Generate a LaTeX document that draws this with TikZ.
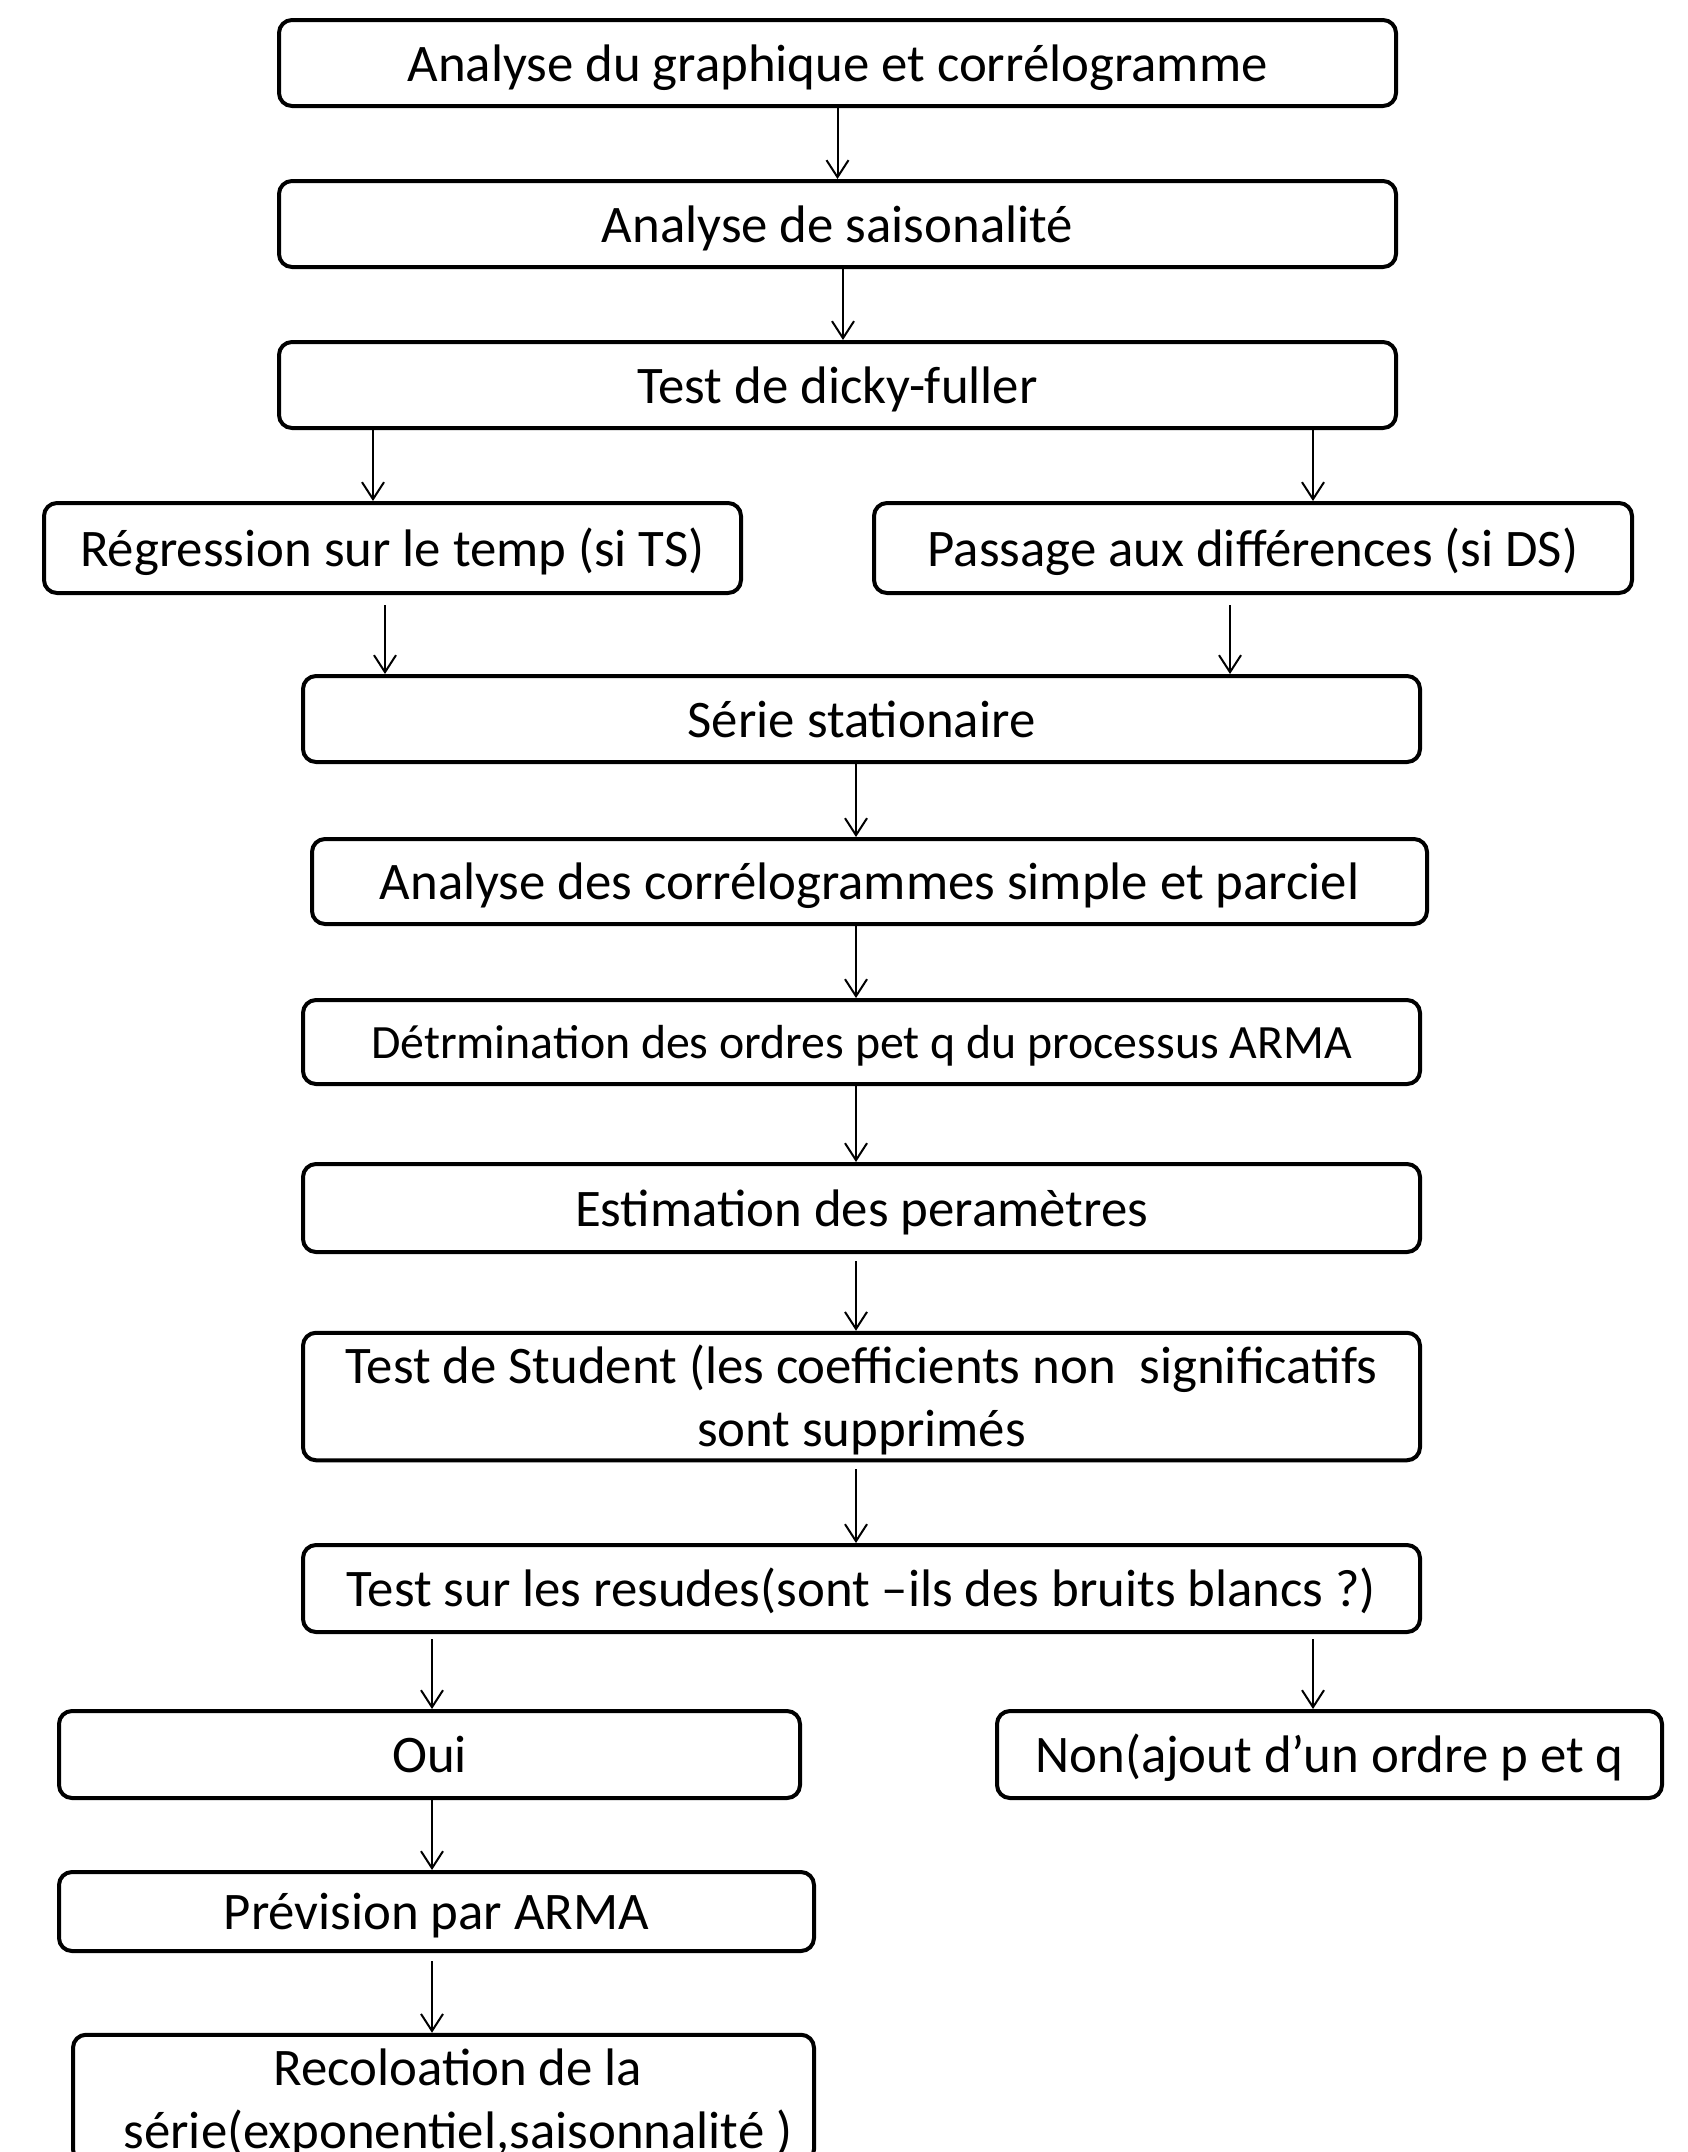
\documentclass[tikz,border=0pt]{standalone}
\usepackage{fontspec}
\setmainfont{Carlito}
\usetikzlibrary{arrows.meta}
\begin{document}
\begin{tikzpicture}[x=1pt,y=-1pt,
  box/.style={draw, line width=4pt, rounded corners=13pt, align=center, inner sep=0pt,
    font=\fontsize{52.8}{63}\selectfont, text height=50.3pt, text depth=14.2pt},
  twoline/.style={box, text height=113.3pt},
  smallbox/.style={box, font=\fontsize{47.8}{57}\selectfont, text height=45.5pt, text depth=12.9pt},
  arr/.style={line width=2pt, -{Straight Barb[length=17pt,width=22pt]}}]
\useasboundingbox (0,0) rectangle (1688,2152);
\clip (0,0) rectangle (1688,2152);
\node[box, minimum width=1117pt, minimum height=86pt] (b1) at (837.5,63) {Analyse du graphique et corrélogramme};
\node[box, minimum width=1117pt, minimum height=86pt] (b2) at (837.5,224) {Analyse de saisonalité};
\node[box, minimum width=1117pt, minimum height=86pt] (b3) at (837.5,385) {Test de dicky-fuller};
\node[box, minimum width=697pt, minimum height=90pt] (b4) at (392.5,548) {Régression sur le temp (si TS)};
\node[box, minimum width=758pt, minimum height=90pt] (b5) at (1253,548) {Passage aux différences (si DS)};
\node[box, minimum width=1117pt, minimum height=86pt] (b6) at (861.5,719) {Série stationaire};
\node[box, minimum width=1115pt, minimum height=85pt] (b7) at (869.5,881.5) {Analyse des corrélogrammes simple et parciel};
\node[smallbox, minimum width=1117pt, minimum height=84pt] (b8) at (861.5,1042) {Détrmination des ordres pet q du processus ARMA};
\node[box, minimum width=1117pt, minimum height=88pt] (b9) at (861.5,1208) {Estimation des peramètres};
\node[twoline, minimum width=1117pt, minimum height=127pt] (b10) at (861.5,1396.5) {Test de Student (les coefficients non\ \ significatifs\\sont supprimés};
\node[box, minimum width=1117pt, minimum height=87pt] (b11) at (861.5,1588.5) {Test sur les resudes(sont –ils des bruits blancs ?)};
\node[box, minimum width=741pt, minimum height=87pt] (b12) at (429.5,1754.5) {Oui};
\node[box, minimum width=665pt, minimum height=87pt] (b13) at (1329.5,1754.5) {Non(ajout d’un ordre p et q};
\node[box, minimum width=755pt, minimum height=79pt] (b14) at (436.5,1911.5) {Prévision par ARMA};
\node[twoline, minimum width=741pt, minimum height=127pt] (b15) at (443.5,2098.5) {\hspace*{29pt}Recoloation de la\\\hspace*{29pt}série(exponentiel,saisonnalité )};
\draw[arr] (b1.south) -- (b2.north);
\draw[arr] ([xshift=5.5pt]b2.south) -- ([xshift=5.5pt]b3.north);
\draw[arr] ([xshift=-464.5pt]b3.south) -- ([xshift=-19.5pt]b4.north);
\draw[arr] ([xshift=475.5pt]b3.south) -- ([xshift=60pt]b5.north);
\draw[arr, shorten <=10pt] ([xshift=-7.5pt]b4.south) -- ([xshift=-476.5pt]b6.north);
\draw[arr, shorten <=10pt] ([xshift=-23pt]b5.south) -- ([xshift=368.5pt]b6.north);
\draw[arr] ([xshift=-5.5pt]b6.south) -- ([xshift=-13.5pt]b7.north);
\draw[arr] ([xshift=-13.5pt]b7.south) -- ([xshift=-5.5pt]b8.north);
\draw[arr] ([xshift=-5.5pt]b8.south) -- ([xshift=-5.5pt]b9.north);
\draw[arr, shorten <=7pt] ([xshift=-5.5pt]b9.south) -- ([xshift=-5.5pt]b10.north);
\draw[arr, shorten <=7pt] ([xshift=-5.5pt]b10.south) -- ([xshift=-5.5pt]b11.north);
\draw[arr, shorten <=5pt] ([xshift=-429.5pt]b11.south) -- ([xshift=2.5pt]b12.north);
\draw[arr, shorten <=5pt] ([xshift=451.5pt]b11.south) -- ([xshift=-16.5pt]b13.north);
\draw[arr] ([xshift=2.5pt]b12.south) -- ([xshift=-4.5pt]b14.north);
\draw[arr, shorten <=8pt] ([xshift=-4.5pt]b14.south) -- ([xshift=-11.5pt]b15.north);
\end{tikzpicture}
\end{document}
